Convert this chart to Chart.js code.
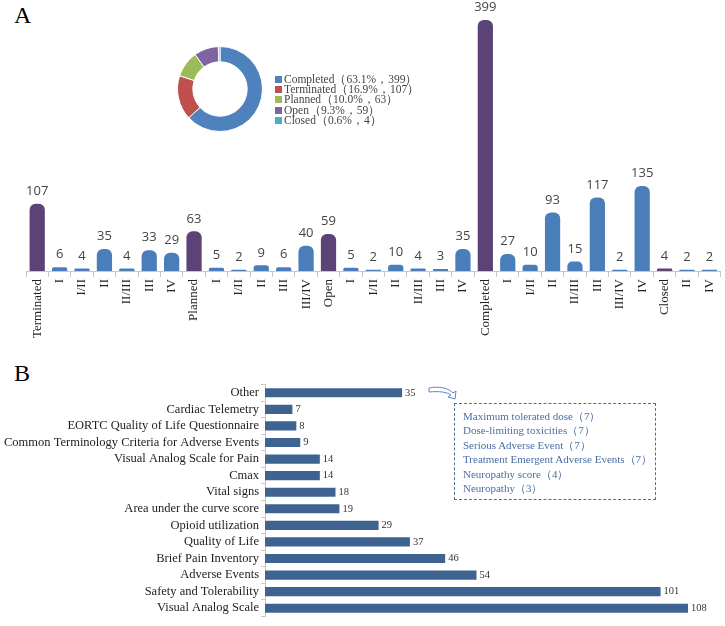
<!DOCTYPE html>
<html>
<head>
<meta charset="UTF-8">
<script src="https://cdn.jsdelivr.net/npm/chart.js"></script>
<style>
  body { margin: 0; width: 725px; height: 626px; overflow: hidden; background: #fff; position: relative; font-family: "Liberation Serif", serif; }
  .abs { position: absolute; }
  .letter { font-size: 24px; color: #000; }
  #legend { left: 275px; top: 74px; font-size: 11.5px; line-height: 10.2px; color: #444; white-space: nowrap; }
  #legend span.sw { display: inline-block; width: 7px; height: 7px; margin-right: 2px; }
  #box { left: 454px; top: 403px; width: 202px; height: 97px; border: 1.3px dashed #4a6fa5; padding: 5px 0 0 8px; box-sizing: border-box; font-size: 11px; line-height: 14.4px; color: #4a6fa5; white-space: nowrap; }
</style>
</head>
<body>
<div class="abs letter" style="left:14px;top:2px">A</div>
<div class="abs letter" style="left:14px;top:360px">B</div>
<div class="abs" style="left:0;top:0;width:727px;height:345px"><canvas id="barA"></canvas></div>
<div class="abs" style="left:177px;top:46px;width:86px;height:86px"><canvas id="pie"></canvas></div>
<div class="abs" id="legend"></div>
<div class="abs" style="left:0;top:375px;width:725px;height:251px"><canvas id="barB"></canvas></div>
<svg class="abs" style="left:425px;top:384px" width="36" height="20">
  <path d="M4 4 C14 2, 24 4, 28 9 L31 7 L30 15 L23 13 L26 11 C22 8, 14 7, 4 8 Z" fill="none" stroke="#5b86c0" stroke-width="1"/>
</svg>
<div class="abs" id="box"></div>
<script>
// Panel A: status groups and phases
const phaseLabels = ["Terminated","I","I/II","II","II/III","III","IV","Planned","I","I/II","II","III","III/IV","Open","I","I/II","II","II/III","III","IV","Completed","I","I/II","II","II/III","III","III/IV","IV","Closed","II","IV"];
const phaseCounts = [107,6,4,35,4,33,29,63,5,2,9,6,40,59,5,2,10,4,3,35,399,27,10,93,15,117,2,135,4,2,2];
const groupNames = ["Terminated","Planned","Open","Completed","Closed"];

// Donut
const statusLabels = ["Completed（63.1%，399）","Terminated（16.9%，107）","Planned（10.0%，63）","Open（9.3%，59）","Closed（0.6%，4）"];
const statusCounts = [399,107,63,59,4];
const statusColors = ["#4f81bd","#c0504d","#9bbb59","#8064a2","#4bacc6"];

// Panel B: outcome measures
const outcomeLabels = ["Other","Cardiac Telemetry","EORTC Quality of Life Questionnaire","Common Terminology Criteria for Adverse Events","Visual Analog Scale for Pain","Cmax","Vital signs","Area under the curve score","Opioid utilization","Quality of Life","Brief Pain Inventory","Adverse Events","Safety and Tolerability","Visual Analog Scale"];
const outcomeCounts = [35,7,8,9,14,14,18,19,29,37,46,54,101,108];
const otherDetails = ["Maximum tolerated dose（7）","Dose-limiting toxicities（7）","Serious Adverse Event（7）","Treatment Emergent Adverse Events（7）","Neuropathy score（4）","Neuropathy（3）"];

const BLUE = "#4a7ebb", PURPLE = "#5b4277";

const valueLabels = (font, color, dx, dy, horizontal) => ({
  id: 'vl',
  afterDatasetsDraw(chart) {
    const ctx = chart.ctx;
    const meta = chart.getDatasetMeta(0);
    ctx.save();
    ctx.font = font; ctx.fillStyle = color;
    meta.data.forEach((el, i) => {
      const v = chart.data.datasets[0].data[i];
      if (horizontal) { ctx.textAlign = 'left'; ctx.textBaseline = 'middle'; ctx.fillText(v, el.x + dx, el.y + dy); }
      else { ctx.textAlign = 'center'; ctx.textBaseline = 'bottom'; ctx.fillText(v, el.x + dx, el.y + dy); }
    });
    ctx.restore();
  }
});

new Chart(document.getElementById('barA'), {
  type: 'bar',
  data: { labels: phaseLabels, datasets: [{
    data: phaseCounts,
    backgroundColor: phaseLabels.map(l => groupNames.includes(l) ? PURPLE : BLUE),
    borderRadius: { topLeft: 6, topRight: 6 }, borderSkipped: 'bottom',
    barPercentage: 0.68, categoryPercentage: 1
  }]},
  options: {
    responsive: true, maintainAspectRatio: false, animation: false,
    layout: { padding: { left: 26, right: 0, top: 20, bottom: 0 } },
    plugins: { legend: { display: false }, tooltip: { enabled: false } },
    scales: {
      x: {
        afterFit: s => { s.height = 74; },
        grid: { drawOnChartArea: false, tickLength: 6, color: '#c8c8c8', offset: true },
        border: { color: '#c8c8c8' },
        ticks: { minRotation: 90, maxRotation: 90, autoSkip: false, color: '#222', font: { family: 'Liberation Serif', size: 13 }, padding: 2 }
      },
      y: { display: false, min: 0, max: 399 }
    }
  },
  plugins: [valueLabels('13px "Open Sans", sans-serif', '#444', 0, -6, false)]
});

new Chart(document.getElementById('pie'), {
  type: 'doughnut',
  data: { labels: statusLabels, datasets: [{ data: statusCounts, backgroundColor: statusColors, borderColor: '#fff', borderWidth: 1 }] },
  options: { responsive: true, maintainAspectRatio: false, animation: false, cutout: '64%',
    plugins: { legend: { display: false }, tooltip: { enabled: false } } }
});
document.getElementById('legend').innerHTML = statusLabels.map((l, i) =>
  `<div><span class="sw" style="background:${statusColors[i]}"></span>${l}</div>`).join('');

new Chart(document.getElementById('barB'), {
  type: 'bar',
  data: { labels: outcomeLabels, datasets: [{ data: outcomeCounts, backgroundColor: '#3e6391', barPercentage: 0.55, categoryPercentage: 1 }] },
  options: {
    indexAxis: 'y', responsive: true, maintainAspectRatio: false, animation: false,
    layout: { padding: { left: 0, right: 37, top: 6, bottom: 2 } },
    plugins: { legend: { display: false }, tooltip: { enabled: false } },
    scales: {
      x: { display: false, min: 0, max: 108 },
      y: {
        afterFit: s => { s.width = 265; },
        grid: { drawOnChartArea: false, tickLength: 4, color: '#c8c8c8', offset: true },
        border: { color: '#c8c8c8' },
        ticks: { color: '#222', font: { family: 'Liberation Serif', size: 12.5 }, padding: 2, autoSkip: false }
      }
    }
  },
  plugins: [valueLabels('10.5px "Liberation Serif", serif', '#333', 3, 0, true)]
});

document.getElementById('box').innerHTML = otherDetails.map(t => `<div>${t}</div>`).join('');
</script>
</body>
</html>
